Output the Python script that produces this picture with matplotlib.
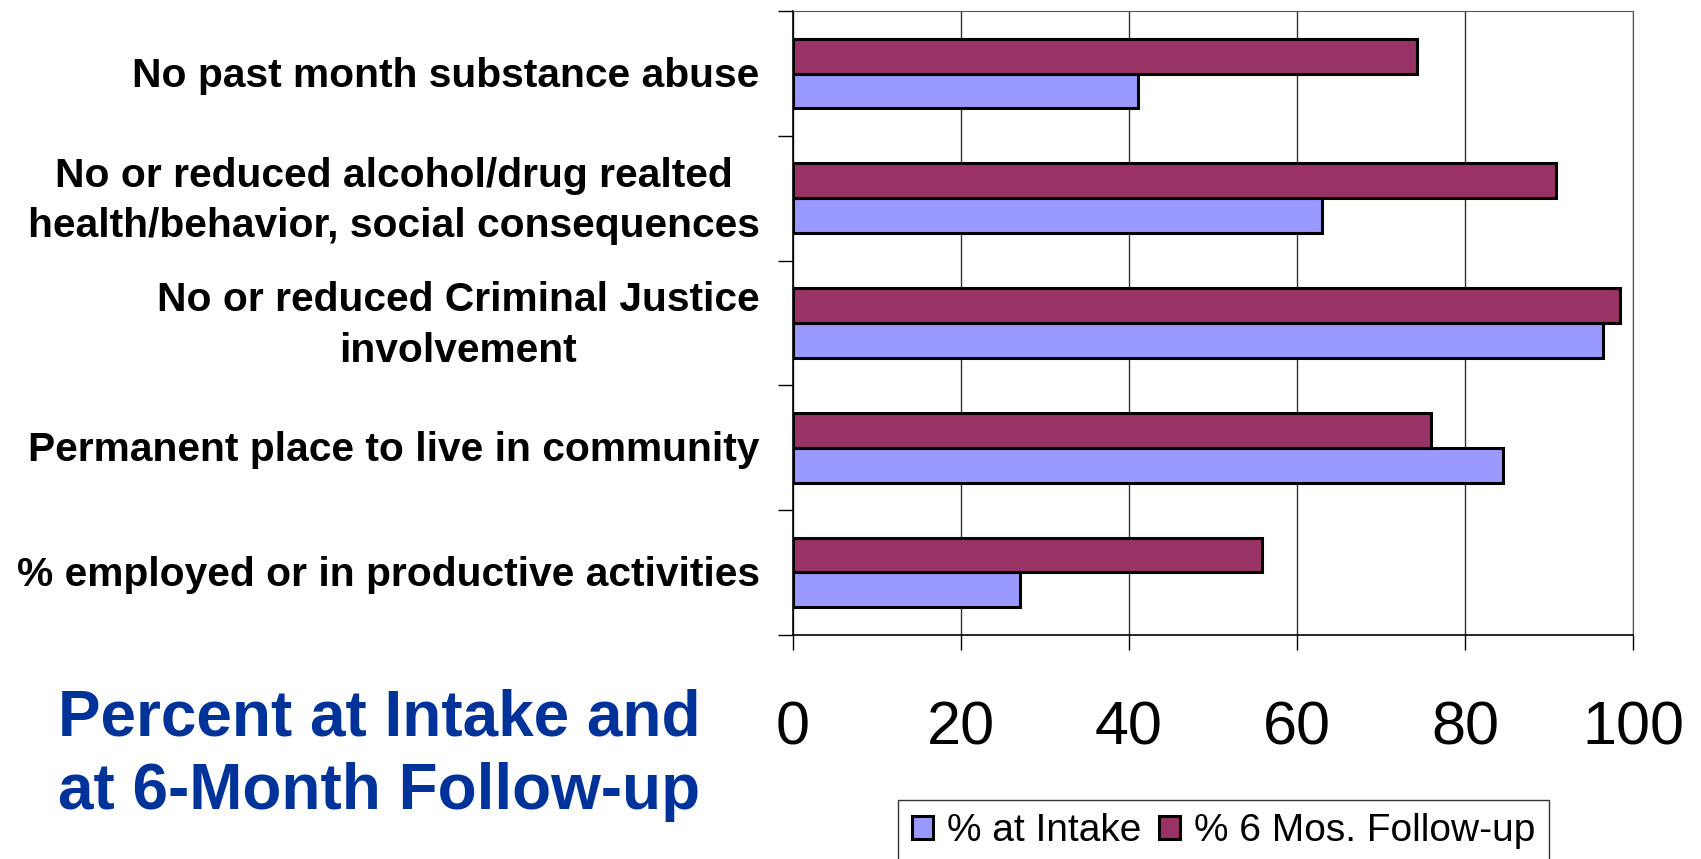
import numpy as np
import matplotlib
matplotlib.use("Agg")
import matplotlib.pyplot as plt
import matplotlib.transforms as mtransforms

plt.rcParams['font.family'] = ['Liberation Sans', 'DejaVu Sans']

# data
categories = [
    "No past month substance abuse",
    "No or reduced alcohol/drug realted\nhealth/behavior, social consequences",
    "No or reduced Criminal Justice\ninvolvement",
    "Permanent place to live in community",
    "% employed or in productive activities",
]
intake = [41.1, 63.0, 96.4, 84.5, 27.0]
followup = [74.3, 90.8, 98.4, 76.0, 55.8]
series_names = ["% at Intake", "% 6 Mos. Follow-up"]
xticks = [0, 20, 40, 60, 80, 100]

intake_color = "#9999FF"
followup_color = "#993366"
title_color = "#003399"

fig = plt.figure(figsize=(17.01, 8.59), dpi=100)
ax = fig.add_axes([0.4662, 0.261, 0.960 - 0.4662, 0.987 - 0.261])

y = np.arange(len(categories))
h = 0.28
ax.barh(y + h / 2, intake, height=h, color=intake_color, edgecolor="black",
        linewidth=2.2, label=series_names[0], zorder=3)
ax.barh(y - h / 2, followup, height=h, color=followup_color, edgecolor="black",
        linewidth=2.2, label=series_names[1], zorder=3)

ax.set_xlim(0, 100)
ax.set_ylim(len(categories) - 0.5, -0.5)

ax.set_xticks(xticks)
ax.set_xticklabels([str(t) for t in xticks], fontsize=44)
ax.tick_params(axis="x", direction="out", length=11, width=1, pad=36)
ax.xaxis.grid(True, color="#333333", linewidth=1, zorder=0)

# category labels at centers, tick marks at boundaries
ax.set_yticks(y)
ax.set_yticklabels(categories, fontsize=29.3, fontweight="bold",
                   multialignment="center", linespacing=1.42, va="center")
ax.tick_params(axis="y", which="major", length=0, pad=24)
ax.set_yticks(np.arange(len(categories) + 1) - 0.5, minor=True)
ax.tick_params(axis="y", which="minor", direction="out", length=11, width=1)

# nudge the labels down a couple of points
shift = mtransforms.ScaledTranslation(0, -2 / 72, fig.dpi_scale_trans)
for lbl in ax.get_yticklabels():
    lbl.set_transform(lbl.get_transform() + shift)

for side in ["top", "right"]:
    ax.spines[side].set_color("#555555")
for side in ["left", "bottom"]:
    ax.spines[side].set_color("black")
    ax.spines[side].set_linewidth(1.2)

fig.text(0.223, 0.121, "Percent at Intake and\nat 6-Month Follow-up",
         ha="center", va="center", fontsize=46, fontweight="bold",
         color=title_color, linespacing=1.29)

leg = fig.legend(loc="upper left", bbox_to_anchor=(0.528, 0.069), ncol=2,
                 fontsize=28, frameon=True, fancybox=False, edgecolor="black",
                 handlelength=0.55, handleheight=0.55, handletextpad=0.35,
                 columnspacing=0.45, borderaxespad=0, borderpad=0.35)
leg.get_frame().set_linewidth(1)

fig.savefig("out.png", dpi=100)
